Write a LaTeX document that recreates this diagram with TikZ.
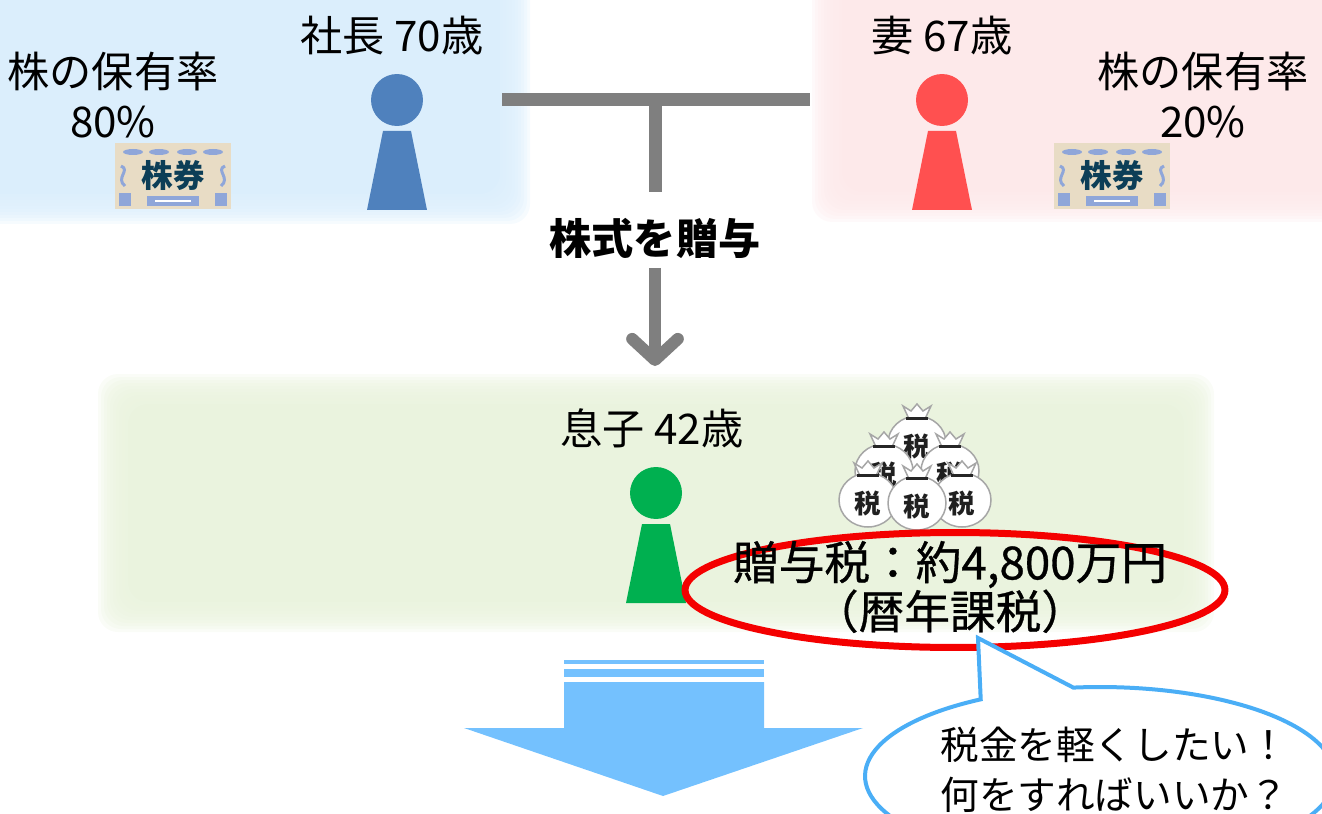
\documentclass[tikz,border=0pt]{standalone}
\usepackage{fontspec}
\setmainfont{Noto Sans CJK JP}
\newfontfamily\medfont{Noto Sans CJK JP}[FakeBold=0.7]
\usetikzlibrary{arrows.meta, shapes.geometric, shapes.callouts, positioning}

\definecolor{bossblue}{HTML}{4F81BD}
\definecolor{wifered}{HTML}{FF5050}
\definecolor{songreen}{HTML}{00B050}
\definecolor{zoneblue}{HTML}{DBEEFC}
\definecolor{zonepink}{HTML}{FDE9EA}
\definecolor{zonegreen}{HTML}{EAF3DE}
\definecolor{linkgray}{HTML}{7F7F7F}
\definecolor{downblue}{HTML}{74C1FE}
\definecolor{bubbleblue}{HTML}{4AAEF6}
\definecolor{ringred}{HTML}{F40000}
\definecolor{certbeige}{HTML}{E8DCC5}
\definecolor{certdeco}{HTML}{8FA6D9}
\definecolor{certink}{HTML}{0C3E57}

% light panel with a soft edge: colour, x1, y1, x2, y2
\newcommand\softzone[5]{%
  \foreach \k in {10,...,1}
    \fill[#1, opacity=.25, rounded corners=.4cm] ({#2-3*\k},{#3-3*\k}) rectangle ({#4+3*\k},{#5+3*\k});
  \fill[#1, rounded corners=.4cm] (#2,#3) rectangle (#4,#5);
}

\begin{document}
\begin{tikzpicture}[x=0.02cm, y=-0.02cm,
  jtext/.style={inner sep=0pt, align=center, font=\fontsize{24}{28.5}\selectfont},
  connector/.style={draw=linkgray, line width=0.26cm},
  head/.style={circle, inner sep=0pt, minimum size=1.04cm},
  bag/.style={draw=gray!70, fill=white, line width=0.03cm},
  bagtie/.style={draw=gray!30!black, line width=0.06cm},
  bagmark/.style={inner sep=0pt, text=gray!25!black, font=\fontsize{15}{15}\selectfont\bfseries},
  ring/.style={ellipse, draw=ringred, line width=0.14cm, inner sep=0pt, minimum width=10.8cm, minimum height=2.3cm},
  bubble/.style={ellipse callout, draw=bubbleblue, fill=white, line width=0.08cm, inner sep=0pt,
    minimum width=9.4cm, minimum height=3.56cm, callout absolute pointer={(978,638)}, callout pointer arc=24}]

  \clip (0,0) rectangle (1322,814);

  % panels
  \softzone{zoneblue}{-40}{-40}{500}{194}
  \softzone{zonepink}{842}{-40}{1362}{192}
  \softzone{zonegreen}{128}{404}{1184}{602}

  % gift line between the parents
  \coordinate (bar-l) at (502,100);
  \coordinate (bar-r) at (810,100);
  \coordinate (bar-mid) at (655,100);
  \coordinate (stem-end) at (655,192);
  \draw[connector] (bar-l) -- (bar-r);
  \draw[connector] (bar-mid) -- (stem-end);
  \node[jtext, font=\fontsize{24}{28.5}\selectfont\bfseries] (gift) at (655,238) {株式を贈与};
  \coordinate (gift-tail) at (655,268);
  \coordinate (gift-tip) at (655,366);
  \draw[connector, line width=0.24cm, -{Straight Barb[round, length=12pt, width=26pt]}] (gift-tail) -- (gift-tip);

  % people
  \foreach \nm/\hx/\hy/\col in {boss/397/100/bossblue, wife/942/100/wifered, son/656/493/songreen}{
    \node[head, fill=\col] (\nm-head) at (\hx,\hy) {};
    \fill[\col] ({\hx-14},{\hy+31}) -- ({\hx+14},{\hy+31}) -- ({\hx+30},{\hy+110}) -- ({\hx-30},{\hy+110}) -- cycle;
  }
  \node[jtext] (boss-name) at (392,36) {社長 70歳};
  \node[jtext] (wife-name) at (942,36) {妻 67歳};
  \node[jtext] (son-name) at (652,428) {息子 42歳};
  \node[jtext] (boss-share) at (113,95) {株の保有率\\80\%};
  \node[jtext] (wife-share) at (1203,95) {株の保有率\\20\%};

  % share certificates
  \foreach \cx/\cy [count=\i] in {173/176, 1112/176}{
    \fill[certbeige] ({\cx-58},{\cy-33}) rectangle ({\cx+58},{\cy+33});
    \foreach \dx in {-40,-14,14,40}
      \fill[certdeco] ({\cx+\dx},{\cy-24}) ellipse [x radius=10, y radius=3];
    \draw[certdeco, line width=0.06cm] ({\cx-52},{\cy-10}) .. controls ({\cx-42},{\cy-6}) and ({\cx-58},{\cy+2}) .. ({\cx-48},{\cy+10});
    \draw[certdeco, line width=0.06cm] ({\cx+52},{\cy-10}) .. controls ({\cx+42},{\cy-6}) and ({\cx+58},{\cy+2}) .. ({\cx+48},{\cy+10});
    \fill[certdeco] ({\cx-54},{\cy+17}) rectangle ({\cx-42},{\cy+30});
    \fill[certdeco] ({\cx+42},{\cy+17}) rectangle ({\cx+54},{\cy+30});
    \fill[certdeco] ({\cx-26},{\cy+20}) rectangle ({\cx+26},{\cy+30});
    \draw[white, line width=0.03cm] ({\cx-18},{\cy+25}) -- ({\cx+18},{\cy+25});
    \node[inner sep=0pt, text=certink, font=\fontsize{18}{18}\selectfont\bfseries] (cert-\i) at (\cx,{\cy-1}) {株券};
  }

  % pile of tax bags
  \foreach \bx/\by [count=\i] in {917/443, 884/471, 950/471, 868/500, 962/500, 917/503}{
    \draw[bag] (\bx,\by) ellipse [x radius=29, y radius=27];
    \draw[bag] ({\bx-8},{\by-24}) -- ({\bx-14},{\by-37}) -- ({\bx-6},{\by-32}) -- (\bx,{\by-39})
      -- ({\bx+6},{\by-32}) -- ({\bx+14},{\by-37}) -- ({\bx+8},{\by-24}) -- cycle;
    \draw[bagtie] ({\bx-11},{\by-25}) -- ({\bx+11},{\by-25});
    \node[bagmark] (bag-\i) at (\bx,{\by+3}) {税};
  }

  % gift tax
  \node[ring] (tax-ring) at (955,590) {};
  \node[jtext, font=\fontsize{26}{28}\selectfont\medfont] (tax-text) at (950,587) {贈与税：約4,800万円\\（暦年課税）};

  % big arrow down
  \fill[downblue] (564,660) rectangle (764,664);
  \fill[downblue] (564,669) rectangle (764,677);
  \fill[downblue] (564,682) -- (764,682) -- (764,728) -- (863,728) -- (663,796) -- (464,728) -- (564,728) -- cycle;

  % speech bubble
  \node[bubble] (bubble) at (1100,776) {};
  \node[jtext, align=left, anchor=west, font=\fontsize{22}{28.5}\selectfont] (bubble-text) at (940,770) {税金を軽くしたい！\\何をすればいいか？};
\end{tikzpicture}
\end{document}
